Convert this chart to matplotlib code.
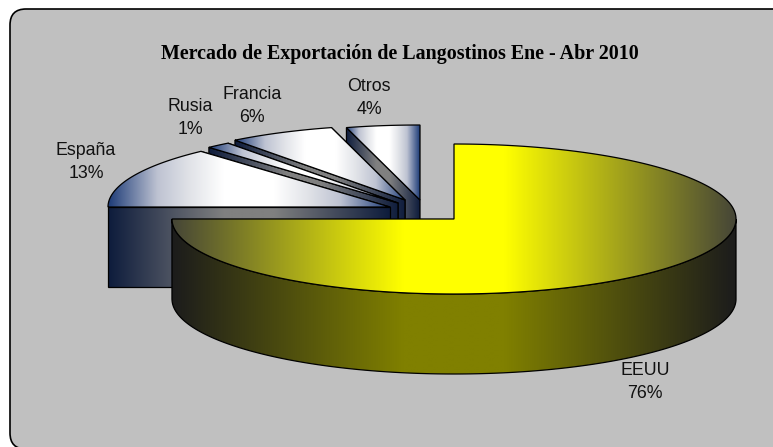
import numpy as np
from matplotlib import pyplot as plt
from matplotlib.colors import LinearSegmentedColormap
from matplotlib.patches import FancyBboxPatch, Polygon

categories = ['EEUU', 'España', 'Rusia', 'Francia', 'Otros']
pctLabels = ['76%', '13%', '1%', '6%', '4%']
# share of the circle each slice is drawn with
shares = [75.0, 13.3, 1.4, 6.1, 4.2]
title = 'Mercado de Exportación de Langostinos Ene - Abr 2010'

width, height = 773, 447
radiusX, radiusY, depth = 282, 75, 80
centers = [(454, 219), (390, 207), (398, 203), (405, 200), (420, 200)]
labelSpots = [(645, 382), (86, 162), (190, 118), (252, 106), (369, 98)]


def ramp(edge, middle):
    # dark at both ends with a flat stretch in the middle
    return [(0, edge), (0.41, middle), (0.59, middle), (1, edge)]


yellowTop = ramp((70/255, 70/255, 55/255), (1, 1, 0))
yellowSide = ramp((28/255, 28/255, 28/255), (128/255, 128/255, 0))
blueSide = ramp((14/255, 28/255, 60/255), (128/255, 128/255, 128/255))
# blue only shows close to the ends of the light slices
blueEdge = (30/255, 60/255, 120/255)
blueMid = (190/255, 195/255, 210/255)
blueLight = (225/255, 227/255, 232/255)
blueTop = [(0, blueEdge), (0.175, blueMid), (0.29, blueLight), (0.41, (1, 1, 1)),
           (0.59, (1, 1, 1)), (0.71, blueLight), (0.825, blueMid), (1, blueEdge)]

fig = plt.figure(figsize=(width/100, height/100), dpi=100)
ax = fig.add_axes([0, 0, 1, 1])
ax.set_xlim(0, width)
ax.set_ylim(height, 0)
ax.axis('off')

# panel runs off the right and bottom of the picture
ax.add_patch(FancyBboxPatch((25, 24), 790, 410, boxstyle='round,pad=15,rounding_size=16',
                            fc='#C0C0C0', ec='black', lw=1.2, zorder=1))

z = 2


def rimPoints(center, a0, a1, drop=0):
    angles = np.radians(np.linspace(a0, a1, max(int(a1 - a0) * 2, 2)))
    xs = center[0] + radiusX * np.sin(angles)
    ys = center[1] - radiusY * np.cos(angles) + drop
    return np.column_stack([xs, ys])


def gradientFill(verts, stops):
    global z
    verts = np.asarray(verts)
    x0, x1 = verts[:, 0].min(), verts[:, 0].max()
    y0, y1 = verts[:, 1].min(), verts[:, 1].max()
    cmap = LinearSegmentedColormap.from_list('grad', stops)
    clip = Polygon(verts, closed=True, fc='none', ec='none', zorder=z)
    ax.add_patch(clip)
    im = ax.imshow(np.linspace(0, 1, 256)[None, :], cmap=cmap, vmin=0, vmax=1, aspect='auto',
                   extent=(x0, x1, y1, y0), zorder=z + 1, interpolation='bilinear')
    im.set_clip_path(clip)
    ax.add_patch(Polygon(verts, closed=True, fc='none', ec='black', lw=0.9, zorder=z + 2))
    z += 3


def drawSlice(center, a0, a1, topStops, sideStops):
    # cut faces first, then the outer wall, the top goes over them
    for a in (a1, a0):
        edge = rimPoints(center, a, a + 1)[:1]
        quad = [edge[0], center, (center[0], center[1] + depth), (edge[0][0], edge[0][1] + depth)]
        if abs(edge[0][0] - center[0]) > 1:
            gradientFill(quad, sideStops)
    lo, hi = max(a0, 90), min(a1, 270)
    if hi > lo:
        top = rimPoints(center, lo, hi)
        bottom = rimPoints(center, lo, hi, depth)
        gradientFill(np.vstack([top, bottom[::-1]]), sideStops)
    gradientFill(np.vstack([[center], rimPoints(center, a0, a1)]), topStops)


angleEdges = np.concatenate([[0], np.cumsum(shares) * 3.6])

# back slices first so the front ones paint over their walls
for i in range(len(categories) - 1, -1, -1):
    topStops = yellowTop if i == 0 else blueTop
    sideStops = yellowSide if i == 0 else blueSide
    drawSlice(centers[i], angleEdges[i], angleEdges[i + 1], topStops, sideStops)

for name, pct, spot in zip(categories, pctLabels, labelSpots):
    ax.text(spot[0], spot[1], name + '\n' + pct, ha='center', va='center', fontsize=12.8,
            family='Liberation Sans', color='#111111', linespacing=1.45, zorder=z)

ax.text(400, 54, title, ha='center', va='center', fontsize=14.4, fontweight='bold',
        family='Liberation Serif', color='black', zorder=z)

ax.set_xlim(0, width)
ax.set_ylim(height, 0)
fig.savefig('out.png', dpi=100, facecolor='white')
